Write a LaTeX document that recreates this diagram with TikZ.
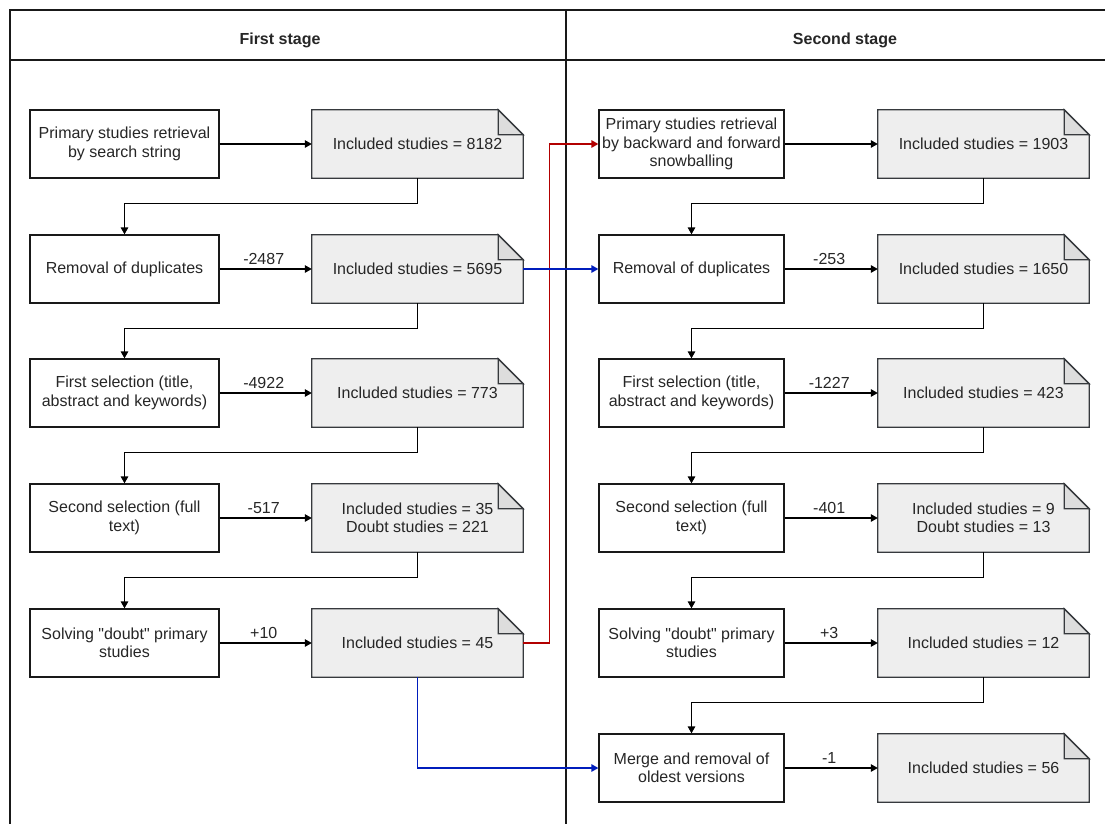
\documentclass[tikz,border=0pt]{standalone}
\usepackage{fontspec}
\setmainfont{Liberation Sans}[Ligatures=TeXOff]
\usetikzlibrary{arrows.meta,backgrounds}
\definecolor{notefill}{HTML}{EEEEEE}
\definecolor{foldfill}{HTML}{DDDDDD}
\definecolor{notedraw}{HTML}{36393D}
\definecolor{lred}{HTML}{B20000}
\definecolor{lblue}{HTML}{001DBC}
\tikzset{
  every node/.style={font=\fontsize{16}{18.5}\selectfont, text=black!85},
  procbox/.style={draw=black!90, line width=1.3pt, fill=white, align=center, minimum height=68pt, inner sep=2pt},
  lproc/.style={procbox, minimum width=189pt},
  rproc/.style={procbox, minimum width=185pt},
  notebox/.style={minimum width=211pt, minimum height=68pt, align=center, inner sep=2pt},
  conn/.style={line width=1.3pt, -{Triangle[length=7pt,width=7.5pt]}},
  lab/.style={midway, anchor=south, yshift=3pt, xshift=-2pt, inner sep=1pt},
  frame/.style={line width=1.8pt, black!90},
}
\newcommand{\notefold}[1]{%
  \filldraw[fill=notefill, draw=notedraw, line width=1.3pt, line join=miter]
    (#1.south west) -- (#1.north west) -- ([xshift=-25pt]#1.north east)
    -- ([yshift=-25pt]#1.north east) -- (#1.south east) -- cycle;
  \filldraw[fill=foldfill, draw=notedraw, line width=1.3pt, line join=miter]
    ([xshift=-25pt]#1.north east) -- ([xshift=-25pt,yshift=-25pt]#1.north east)
    -- ([yshift=-25pt]#1.north east) -- cycle;
}
\begin{document}
\begin{tikzpicture}[x=1pt,y=-1pt]
\useasboundingbox (0,0) rectangle (1105,823);
\begin{scope}
\clip (0,0) rectangle (1105,823);
\draw[frame] (10,840) -- (10,10) -- (1125,10);
\draw[frame] (10,60) -- (1125,60);
\draw[frame] (566,10) -- (566,840);
\end{scope}
\node[font=\fontsize{16}{18.5}\selectfont\bfseries] (t1) at (280,40) {First stage};
\node[font=\fontsize{16}{18.5}\selectfont\bfseries] (t2) at (845,40) {Second stage};

% left column
\node[lproc] (p1) at (124.5,144) {Primary studies retrieval\\by search string};
\node[lproc] (p2) at (124.5,269) {Removal of duplicates};
\node[lproc] (p3) at (124.5,393) {First selection (title,\\abstract and keywords)};
\node[lproc] (p4) at (124.5,518) {Second selection (full\\text)};
\node[lproc] (p5) at (124.5,643) {Solving "doubt" primary\\studies};

\node[notebox] (n1) at (417.5,144) {Included studies = 8182};
\node[notebox] (n2) at (417.5,269) {Included studies = 5695};
\node[notebox] (n3) at (417.5,393) {Included studies = 773};
\node[notebox] (n4) at (417.5,518) {Included studies = 35\\Doubt studies = 221};
\node[notebox] (n5) at (417.5,643) {Included studies = 45};

% right column
\node[rproc] (q1) at (691.5,144) {Primary studies retrieval\\by backward and forward\\snowballing};
\node[rproc] (q2) at (691.5,269) {Removal of duplicates};
\node[rproc] (q3) at (691.5,393) {First selection (title,\\abstract and keywords)};
\node[rproc] (q4) at (691.5,518) {Second selection (full\\text)};
\node[rproc] (q5) at (691.5,643) {Solving "doubt" primary\\studies};
\node[rproc] (q6) at (691.5,768) {Merge and removal of\\oldest versions};

\node[notebox] (m1) at (983.5,144) {Included studies = 1903};
\node[notebox] (m2) at (983.5,269) {Included studies = 1650};
\node[notebox] (m3) at (983.5,393) {Included studies = 423};
\node[notebox] (m4) at (983.5,518) {Included studies = 9\\Doubt studies = 13};
\node[notebox] (m5) at (983.5,643) {Included studies = 12};
\node[notebox] (m6) at (983.5,768) {Included studies = 56};

\begin{scope}[on background layer]
\foreach \n in {n1,n2,n3,n4,n5,m1,m2,m3,m4,m5,m6} {\notefold{\n}}
\end{scope}

% horizontal connectors
\draw[conn] (p1) -- (n1);
\draw[conn] (p2) -- node[lab]{-2487} (n2);
\draw[conn] (p3) -- node[lab]{-4922} (n3);
\draw[conn] (p4) -- node[lab]{-517} (n4);
\draw[conn] (p5) -- node[lab]{+10} (n5);
\draw[conn] (q1) -- (m1);
\draw[conn] (q2) -- node[lab]{-253} (m2);
\draw[conn] (q3) -- node[lab]{-1227} (m3);
\draw[conn] (q4) -- node[lab]{-401} (m4);
\draw[conn] (q5) -- node[lab]{+3} (m5);
\draw[conn] (q6) -- node[lab]{-1} (m6);

% elbow connectors
\draw[conn] (n1.south) -- ++(0,25) -| (p2.north);
\draw[conn] (n2.south) -- ++(0,25) -| (p3.north);
\draw[conn] (n3.south) -- ++(0,25) -| (p4.north);
\draw[conn] (n4.south) -- ++(0,25) -| (p5.north);
\draw[conn] (m1.south) -- ++(0,25) -| (q2.north);
\draw[conn] (m2.south) -- ++(0,25) -| (q3.north);
\draw[conn] (m3.south) -- ++(0,25) -| (q4.north);
\draw[conn] (m4.south) -- ++(0,25) -| (q5.north);
\draw[conn] (m5.south) -- ++(0,25) -| (q6.north);

% cross-stage connectors
\draw[conn, lred] (n5.east) -- ([xshift=26pt]n5.east) |- (q1.west);
\draw[conn, lblue] (n2.east) -- (q2.west);
\draw[conn, lblue] (n5.south) |- (q6.west);
\end{tikzpicture}
\end{document}
